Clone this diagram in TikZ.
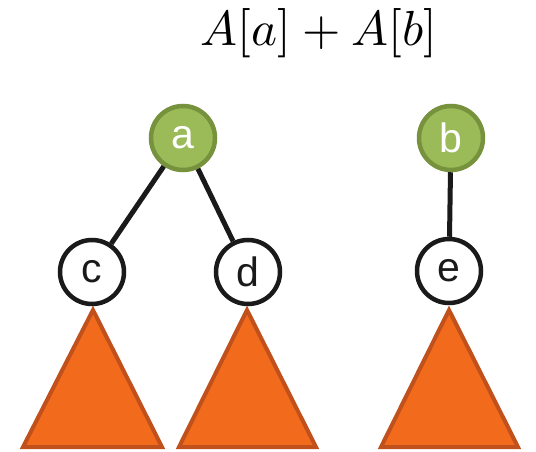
\documentclass[tikz,border=0pt]{standalone}
\usepackage{fontspec}
\usepackage{graphicx}
\newfontfamily\arialfont{Liberation Sans}
\definecolor{greenfill}{HTML}{9BBB59}
\definecolor{greenedge}{HTML}{76923C}
\definecolor{trifill}{HTML}{F26A1B}
\definecolor{triedge}{HTML}{C0501C}
\definecolor{inkblack}{HTML}{1A1A1A}
\begin{document}
\begin{tikzpicture}[x=1pt,y=-1pt,
  greennode/.style={circle,fill=greenfill,draw=greenedge,line width=4.5pt,minimum size=64pt,inner sep=0pt,text=white,font=\arialfont\fontsize{41}{41}\selectfont},
  whitenode/.style={circle,fill=white,draw=inkblack,line width=4.5pt,minimum size=64pt,inner sep=0pt,text=inkblack,font=\arialfont\fontsize{41}{41}\selectfont},
  edge/.style={draw=inkblack,line width=5pt},
  subtree/.style={fill=trifill,draw=triedge,line width=4pt,line join=miter}]
\useasboundingbox (0,0) rectangle (536,452);
\node (title) at (319,33) {\resizebox{236pt}{!}{$A[a]+A[b]$}};
% triangles
\draw[subtree] (93,310) -- (162,447) -- (23,447) -- cycle;
\draw[subtree] (247,310) -- (316,447) -- (179,447) -- cycle;
\draw[subtree] (449,310) -- (518,447) -- (381,447) -- cycle;
% nodes
\node[greennode] (a) at (183,138) {a};
\node[greennode] (b) at (451,138) {b};
\node[whitenode] (c) at (92,272) {c};
\node[whitenode] (d) at (248,272) {d};
\node[whitenode] (e) at (449,271) {e};
% edges
\draw[edge] (a) -- (c);
\draw[edge] (a) -- (d);
\draw[edge] (b) -- (e);
\end{tikzpicture}
\end{document}
